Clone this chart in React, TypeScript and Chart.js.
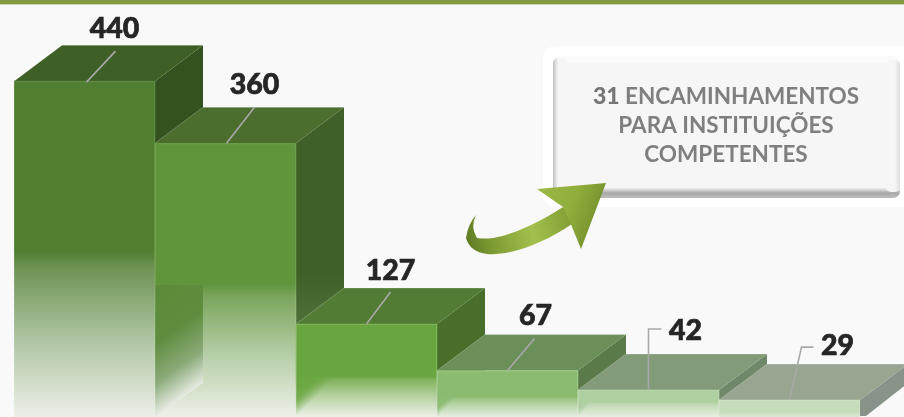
import React, { useEffect, useRef } from "react";
import { Chart, registerables } from "chart.js";

Chart.register(...registerables);

const categories = ["A", "B", "C", "D", "E", "F"];
const values = [440, 360, 127, 67, 42, 29];
const annotationLines = ["ENCAMINHAMENTOS", "PARA INSTITUIÇÕES", "COMPETENTES"];
const annotationCount = "31";

const frontColors = ["#507f32", "#60953c", "#6aa640", "#8abb70", "#aecfa0", "#c7dcbb"];
const topColors = ["#3e5f26", "#4b6e2e", "#527c33", "#6a8f58", "#839b79", "#98a590"];
const sideColors = ["#33521f", "#3f6128", "#476f2a", "#5a7b49", "#70876a", "#88948a"];
const fadeStarts = [252, 284, 376, 397, 402, 413];
const fadeEnds = [0.05, 0.05, 0.05, 0.14, 0.2, 0.6];

const BG = "#f9f9f9";
const DX = 48;
const DY = 36;
const W = 904;
const H = 417;

// label offsets and leader shapes, relative to the centre of each bar's top edge
const labelOffsets = [[30, -52], [29, -58], [24, -53], [28, -55], [37, -59], [48, -54]];
const leaders = [
  [[2, 1], [31, -30]],
  [[1, 0], [29, -36]],
  [[0, 0], [24, -32]],
  [[0, 0], [27, -32]],
  [[0, 0], [0, -61], [13, -61]],
  [[0, 0], [12, -53], [24, -53]],
];

function rgb(hex: string) {
  const n = parseInt(hex.slice(1), 16);
  return [(n >> 16) & 255, (n >> 8) & 255, n & 255];
}

function mix(hex: string, t: number) {
  const base = [244, 246, 242];
  const c = rgb(hex).map((v, i) => Math.round(v * t + base[i] * (1 - t)));
  return `rgb(${c[0]},${c[1]},${c[2]})`;
}

function alpha(hex: string, a: number) {
  const c = rgb(hex);
  return `rgba(${c[0]},${c[1]},${c[2]},${a})`;
}

function poly(ctx: CanvasRenderingContext2D, pts: number[][]) {
  ctx.beginPath();
  pts.forEach((p, i) => (i ? ctx.lineTo(p[0], p[1]) : ctx.moveTo(p[0], p[1])));
  ctx.closePath();
}

function roundRect(ctx: CanvasRenderingContext2D, x: number, y: number, w: number, h: number, r: number) {
  ctx.beginPath();
  ctx.roundRect(x, y, w, h, r);
}

const facesPlugin = {
  id: "faces",
  beforeDatasetsDraw(chart: any) {
    const ctx: CanvasRenderingContext2D = chart.ctx;
    const bars = chart.getDatasetMeta(0).data;
    ctx.save();
    bars.forEach((b: any, i: number) => {
      const l = b.x - b.width / 2;
      const r = b.x + b.width / 2;
      const t = b.y;
      const next = bars[i + 1];
      const sideGrad = ctx.createLinearGradient(0, t, 0, next ? next.y : H);
      sideGrad.addColorStop(0, sideColors[i]);
      sideGrad.addColorStop(0.72, sideColors[i]);
      sideGrad.addColorStop(1, i === 1 ? "#4d7139" : sideColors[i]);
      ctx.fillStyle = sideGrad;
      if (next) {
        poly(ctx, [[r, t], [r + DX, t - DY], [r + DX, H + 10], [r, H + 10]]);
      } else {
        // the last side dissolves along a diagonal at the foot of the picture
        poly(ctx, [[r, t], [r + DX, t - DY], [r + DX, t - 17], [r + 6, H - 1], [r, H - 1]]);
      }
      ctx.fill();
      ctx.fillStyle = topColors[i];
      poly(ctx, [[l, t], [l + DX, t - DY], [r + DX, t - DY], [r, t]]);
      ctx.fill();
      ctx.strokeStyle = "rgba(255,255,255,0.24)";
      ctx.lineWidth = 1;
      ctx.beginPath();
      ctx.moveTo(l, t);
      ctx.lineTo(l + DX, t - DY);
      ctx.lineTo(r + DX, t - DY);
      ctx.stroke();
    });
    ctx.restore();
  },
};

const overlayPlugin = {
  id: "overlay",
  afterDatasetsDraw(chart: any) {
    const ctx: CanvasRenderingContext2D = chart.ctx;
    const bars = chart.getDatasetMeta(0).data;
    ctx.save();

    // the shaded left part of the second bar, cut by a diagonal
    {
      const l = bars[1].x - bars[1].width / 2;
      const g = ctx.createLinearGradient(l, 285, l + 62, 373);
      g.addColorStop(0, "#5b8b39");
      g.addColorStop(0.45, "#5f8d3f");
      g.addColorStop(0.75, "#8aaa78");
      g.addColorStop(1, "#e6ebe2");
      ctx.fillStyle = g;
      poly(ctx, [[l, 285], [l + DX, 285], [l + DX, 383], [l, 417]]);
      ctx.fill();
    }

    // on the lower bars the colour runs further down at the left, also along a diagonal
    bars.slice(2).forEach((b: any, k: number) => {
      const i = k + 2;
      const l = b.x - b.width / 2;
      const f = fadeStarts[i];
      const drop = H - f;
      const g = ctx.createLinearGradient(l, f, l + drop / 2, f + drop / 2);
      g.addColorStop(0, alpha(frontColors[i], 1));
      g.addColorStop(0.6, alpha(frontColors[i], 0.85));
      g.addColorStop(1, alpha(frontColors[i], 0));
      ctx.fillStyle = g;
      poly(ctx, [[l, f], [l + drop, f], [l, H]]);
      ctx.fill();
    });

    // thin light edge round each front
    bars.forEach((b: any, i: number) => {
      const l = b.x - b.width / 2;
      const r = b.x + b.width / 2;
      ctx.strokeStyle = i > 1 ? "rgba(255,255,255,0.16)" : "rgba(255,255,255,0.1)";
      ctx.lineWidth = 1;
      ctx.strokeRect(l + 0.5, b.y + 0.5, r - l - 1, H - b.y + 4);
    });

    // leaders and value labels
    bars.forEach((b: any, i: number) => {
      ctx.strokeStyle = "#a9a9a9";
      ctx.lineWidth = 1.6;
      ctx.beginPath();
      leaders[i].forEach((p, j) => {
        if (j) ctx.lineTo(b.x + p[0], b.y + p[1]);
        else ctx.moveTo(b.x + p[0], b.y + p[1]);
      });
      ctx.stroke();
      ctx.fillStyle = "#262626";
      ctx.strokeStyle = "#262626";
      ctx.lineWidth = 0.7;
      ctx.font = "900 28.5px Lato";
      ctx.textAlign = "center";
      ctx.textBaseline = "middle";
      const lx = b.x + labelOffsets[i][0];
      const ly = b.y + labelOffsets[i][1];
      ctx.fillText(String(values[i]), lx, ly);
      ctx.strokeText(String(values[i]), lx, ly);
    });
    ctx.restore();
  },
  afterDraw(chart: any) {
    const ctx: CanvasRenderingContext2D = chart.ctx;
    ctx.save();

    // annotation box
    ctx.fillStyle = "#ffffff";
    roundRect(ctx, 543, 46, 370, 161, 12);
    ctx.fill();
    const edge = ctx.createLinearGradient(0, 56, 0, 198);
    edge.addColorStop(0, "#fbfbfb");
    edge.addColorStop(0.035, "#fafafa");
    edge.addColorStop(0.93, "#f0f0f0");
    edge.addColorStop(0.965, "#a8a8a8");
    edge.addColorStop(1, "#bdbdbd");
    ctx.fillStyle = edge;
    roundRect(ctx, 553, 56, 347, 142, 7);
    ctx.fill();
    const left = ctx.createLinearGradient(553, 0, 558, 0);
    left.addColorStop(0, "#c0c0c0");
    left.addColorStop(1, "#f6f6f6");
    ctx.fillStyle = left;
    roundRect(ctx, 553, 58, 14, 134, 5);
    ctx.fill();
    const right = ctx.createLinearGradient(895, 0, 900, 0);
    right.addColorStop(0, "#f6f6f6");
    right.addColorStop(1, "#dedede");
    ctx.fillStyle = right;
    roundRect(ctx, 886, 60, 14, 132, 5);
    ctx.fill();
    ctx.fillStyle = "#f6f6f6";
    ctx.fillRect(560, 63, 333, 125);

    // annotation text
    ctx.textBaseline = "middle";
    ctx.textAlign = "left";
    const cx = 726;
    const rest = " " + annotationLines[0];
    ctx.font = "900 23px Lato";
    const w1 = ctx.measureText(annotationCount).width;
    ctx.font = "700 22.5px Lato";
    const w2 = ctx.measureText(rest).width;
    const x0 = cx - (w1 + w2) / 2;
    ctx.font = "900 23px Lato";
    ctx.fillStyle = "#767676";
    ctx.fillText(annotationCount, x0, 97);
    ctx.font = "700 22.5px Lato";
    ctx.fillStyle = "#7f7f7f";
    ctx.fillText(rest, x0 + w1, 97);
    ctx.textAlign = "center";
    ctx.fillText(annotationLines[1], cx, 126);
    ctx.fillText(annotationLines[2], cx, 155);

    // curved arrow
    const shaft = ctx.createLinearGradient(466, 240, 575, 215);
    shaft.addColorStop(0, "#5d7a22");
    shaft.addColorStop(0.22, "#7e9c33");
    shaft.addColorStop(0.6, "#a3c04e");
    shaft.addColorStop(1, "#7d9b30");
    ctx.fillStyle = shaft;
    ctx.beginPath();
    ctx.moveTo(476, 215);
    ctx.quadraticCurveTo(470, 227, 477, 238);
    ctx.bezierCurveTo(500, 242, 535, 225, 563, 207);
    ctx.lineTo(575, 222);
    ctx.bezierCurveTo(545, 243, 510, 256, 487, 254);
    ctx.quadraticCurveTo(470, 252, 466, 238);
    ctx.quadraticCurveTo(468, 224, 476, 215);
    ctx.closePath();
    ctx.fill();

    const head = ctx.createLinearGradient(540, 190, 606, 215);
    head.addColorStop(0, "#9bb845");
    head.addColorStop(0.5, "#90ae3c");
    head.addColorStop(1, "#6f8d2a");
    ctx.fillStyle = head;
    poly(ctx, [[606, 183], [537, 189], [563, 207], [570, 222], [581, 249]]);
    ctx.fill();
    ctx.restore();
  },
};

export default function App() {
  const ref = useRef<HTMLCanvasElement>(null);

  useEffect(() => {
    const chart = new Chart(ref.current!, {
      type: "bar",
      data: {
        labels: categories,
        datasets: [
          {
            data: values,
            barPercentage: 1,
            categoryPercentage: 1,
            borderWidth: 0,
            backgroundColor: (c: any) => {
              const i = c.dataIndex;
              const g = c.chart.ctx.createLinearGradient(0, 0, 0, H);
              const f = fadeStarts[i];
              const span = H - f;
              const end = fadeEnds[i];
              g.addColorStop(0, frontColors[i]);
              g.addColorStop(f / H, frontColors[i]);
              g.addColorStop((f + span * 0.1) / H, mix(frontColors[i], 0.82));
              g.addColorStop((f + span * 0.5) / H, mix(frontColors[i], 0.42 + end * 0.5));
              g.addColorStop(1, mix(frontColors[i], end));
              return g;
            },
          },
        ],
      },
      options: {
        responsive: false,
        animation: false,
        layout: { padding: { left: 14, right: 44, top: 0, bottom: 0 } },
        plugins: { legend: { display: false }, tooltip: { enabled: false } },
        scales: {
          x: { display: false },
          y: { display: false, min: 7.2, max: 544.6 },
        },
      },
      plugins: [
        {
          id: "paper",
          beforeDraw(ch: any) {
            const ctx = ch.ctx;
            ctx.save();
            ctx.fillStyle = BG;
            ctx.fillRect(0, 0, W, H);
            ctx.fillStyle = "#7f9a41";
            ctx.fillRect(0, 0, W, 4);
            ctx.fillStyle = "#c9d3ac";
            ctx.fillRect(0, 4, W, 1);
            ctx.restore();
          },
        },
        facesPlugin,
        overlayPlugin,
      ],
    });
    return () => chart.destroy();
  }, []);

  return (
    <div style={{ position: "fixed", left: 0, top: 0, width: W, height: H, overflow: "hidden" }}>
      <canvas ref={ref} width={W} height={H} style={{ display: "block" }} />
    </div>
  );
}
